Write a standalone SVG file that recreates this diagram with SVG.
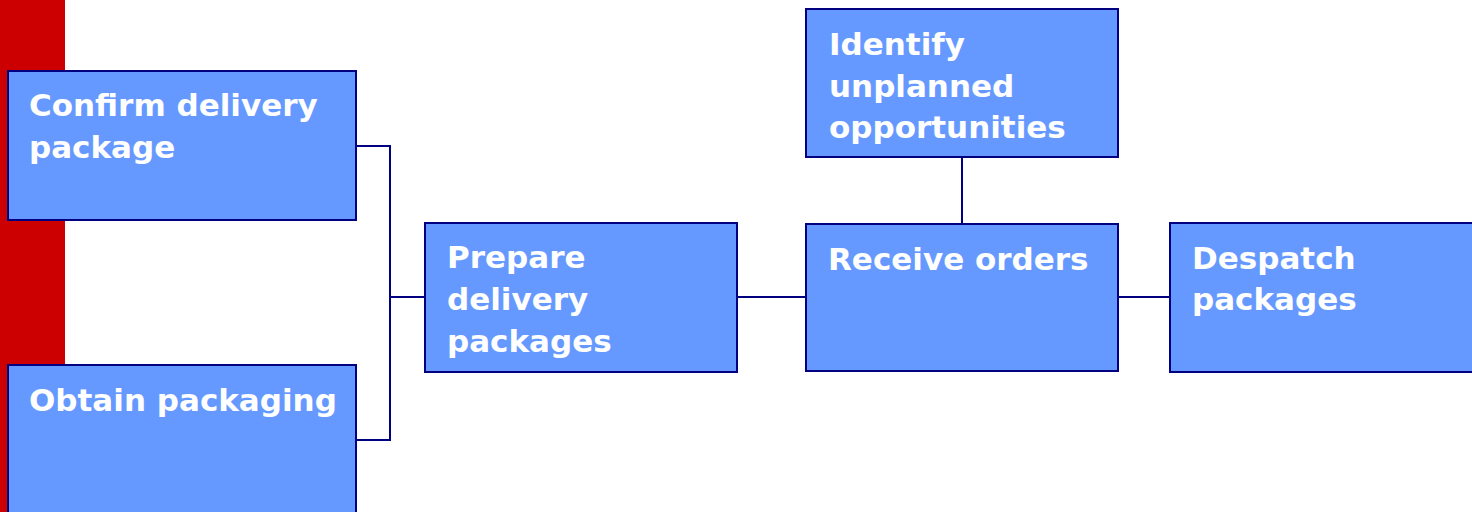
<svg xmlns="http://www.w3.org/2000/svg" width="1472" height="512" viewBox="0 0 1472 512">
<style>
.box{fill:#6699FF;stroke:#000080;stroke-width:2}
.lbl{font-family:"DejaVu Sans",Verdana,sans-serif;font-weight:bold;font-size:31px;fill:#FFFFFF}
.con{fill:none;stroke:#000080;stroke-width:2}
</style>
<rect x="0" y="0" width="65" height="512" fill="#CC0000"/>
<g id="connectors">
<polyline class="con" points="356,146 390,146 390,440 356,440"/>
<line class="con" x1="390" y1="297" x2="425" y2="297"/>
<line class="con" x1="737" y1="297" x2="806" y2="297"/>
<line class="con" x1="962" y1="157" x2="962" y2="224"/>
<line class="con" x1="1118" y1="297" x2="1170" y2="297"/>
</g>
<g id="confirm">
<rect class="box" x="8" y="71" width="348" height="149"/>
<text class="lbl" x="29" y="116">Confirm delivery</text>
<text class="lbl" x="29" y="158">package</text>
</g>
<g id="obtain">
<rect class="box" x="8" y="365" width="348" height="160"/>
<text class="lbl" x="29" y="411">Obtain packaging</text>
</g>
<g id="prepare">
<rect class="box" x="425" y="223" width="312" height="149"/>
<text class="lbl" x="447" y="268">Prepare</text>
<text class="lbl" x="447" y="310">delivery</text>
<text class="lbl" x="447" y="352">packages</text>
</g>
<g id="identify">
<rect class="box" x="806" y="9" width="312" height="148"/>
<text class="lbl" x="829" y="55">Identify</text>
<text class="lbl" x="829" y="97">unplanned</text>
<text class="lbl" x="829" y="138">opportunities</text>
</g>
<g id="receive">
<rect class="box" x="806" y="224" width="312" height="147"/>
<text class="lbl" x="828" y="270">Receive orders</text>
</g>
<g id="despatch">
<rect class="box" x="1170" y="223" width="312" height="149"/>
<text class="lbl" x="1192" y="269">Despatch</text>
<text class="lbl" x="1192" y="310">packages</text>
</g>
</svg>
